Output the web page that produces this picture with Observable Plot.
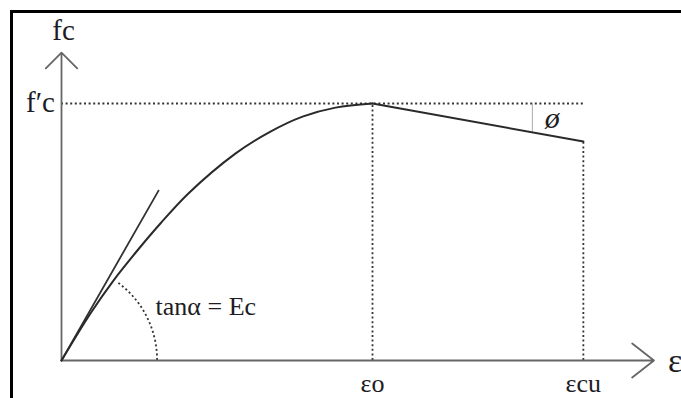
<!DOCTYPE html>
<html>
<head>
<meta charset="utf-8">
<script src="https://cdn.jsdelivr.net/npm/d3@7"></script>
<script src="https://cdn.jsdelivr.net/npm/@observablehq/plot@0.6"></script>
<style>
  html, body { margin: 0; padding: 0; background: #fff; width: 681px; height: 398px; overflow: hidden; }
  #wrap { position: relative; width: 681px; height: 398px; overflow: hidden; }
  #wrap svg { position: absolute; left: 0; top: 0; display: block; }
  .bl { position: absolute; left: 10px; top: 10px; width: 3px; height: 388px; background: #000; }
  .bt { position: absolute; left: 10px; top: 10px; width: 671px; height: 3px; background: #000; }
</style>
</head>
<body>
<div id="wrap"><div class="bl"></div><div class="bt"></div></div>
<script>
// Stress-strain curve (strain relative to εo, stress relative to f'c)
const risingStrain = [0, 0.093, 0.167, 0.244, 0.318, 0.408, 0.559, 0.666, 0.775, 0.881, 1.0];
const risingStress = [0, 0.183, 0.311, 0.428, 0.533, 0.650, 0.805, 0.887, 0.949, 0.984, 1.0];
const fallingStrain = [1.0, 1.678];
const fallingStress = [1.0, 0.852];
// Initial tangent (modulus Ec)
const tangentStrain = [0, 0.312];
const tangentStress = [0, 0.661];
// Key values
const epsO = 1.0, epsCu = 1.678, fcPeak = 1.0, fcUlt = 0.852;
const xAxisEnd = 1.905, yAxisEnd = 1.198;
const phiStrain = 1.514, phiStress = 0.888;
const alphaRadius = 0.309;
const refLineEnd = 1.685;
// Labels
const tickLabels = ["εo", "εcu"];
const tickValues = [epsO, epsCu];
const yLabel = "fc", peakLabel = "f′c", xLabel = "ε", modulusLabel = "tanα = Ec", phiLabel = "ø";

const rising = risingStrain.map((s, i) => ({s, f: risingStress[i]}));
const falling = fallingStrain.map((s, i) => ({s, f: fallingStress[i]}));
const tangent = tangentStrain.map((s, i) => ({s, f: tangentStress[i]}));

const serif = "Liberation Serif";
const ink = "#1c1c24";
const dotted = {stroke: "#333", strokeWidth: 1.8, strokeDasharray: "2,2.6"};

const alphaArc = (index, scales) => {
  const cx = scales.x(0), cy = scales.y(0);
  const r = scales.x(alphaRadius) - cx;
  const p = d3.path();
  p.moveTo(cx + r, cy);
  p.arc(cx, cy, r, 0, -54 * Math.PI / 180, true);
  const g = document.createElementNS("http://www.w3.org/2000/svg", "path");
  g.setAttribute("d", p.toString());
  g.setAttribute("fill", "none");
  g.setAttribute("stroke", "#333");
  g.setAttribute("stroke-width", "1.8");
  g.setAttribute("stroke-dasharray", "2,2.6");
  return g;
};

const chart = Plot.plot({
  width: 681,
  height: 398,
  margin: 0,
  style: {background: "transparent", fontFamily: serif},
  x: {domain: [0, 1], range: [61, 372], axis: null},
  y: {domain: [0, 1], range: [360, 103], axis: null},
  marks: [
    // dotted reference lines
    Plot.ruleY([fcPeak], {x1: 0, x2: refLineEnd, ...dotted}),
    Plot.ruleX([epsO], {y1: 0, y2: fcPeak, ...dotted}),
    Plot.ruleX([epsCu], {y1: 0, y2: fcUlt, ...dotted}),
    alphaArc,
    // phi marker
    Plot.ruleX([phiStrain], {y1: phiStress, y2: fcPeak, stroke: "#aaa", strokeWidth: 1}),
    // axes with arrowheads
    Plot.arrow([{}], {x1: 0, y1: 0, x2: xAxisEnd, y2: 0, stroke: "#666", strokeWidth: 1.8, headLength: 23, headAngle: 76}),
    Plot.arrow([{}], {x1: 0, y1: 0, x2: 0, y2: yAxisEnd, stroke: "#666", strokeWidth: 1.8, headLength: 18.5, headAngle: 90}),
    // tangent and curve
    Plot.line(tangent, {x: "s", y: "f", stroke: "#333", strokeWidth: 1.8}),
    Plot.line(rising, {x: "s", y: "f", curve: "catmull-rom", stroke: "#2a2a2a", strokeWidth: 2}),
    Plot.line(falling, {x: "s", y: "f", stroke: "#2a2a2a", strokeWidth: 2}),
    // labels
    Plot.text(tickLabels, {x: (d, i) => tickValues[i], y: 0, dy: 23, text: d => d, fill: ink, fontSize: 26, fontFamily: serif}),
    Plot.text([yLabel], {x: 0, y: yAxisEnd, dx: 2, dy: -22, text: d => d, fill: ink, fontSize: 29, fontFamily: serif}),
    Plot.text([peakLabel], {x: 0, y: fcPeak, dx: -21, dy: -1, text: d => d, fill: ink, fontSize: 29, fontFamily: serif}),
    Plot.text([xLabel], {x: xAxisEnd, y: 0, dx: 14, dy: 1, textAnchor: "start", text: d => d, fill: ink, fontSize: 34, fontFamily: serif}),
    Plot.text([modulusLabel], {x: alphaRadius, y: 0.21, dx: -2, textAnchor: "start", text: d => d, fill: ink, fontSize: 26, fontFamily: serif}),
    Plot.text([phiLabel], {x: phiStrain, y: fcPeak, dx: 20, dy: 15, text: d => d, fill: ink, fontSize: 30, fontStyle: "italic", fontFamily: serif})
  ]
});
d3.select(chart).selectAll("text, tspan").attr("font-family", serif).style("font-family", serif);
document.getElementById("wrap").prepend(chart);
</script>
</body>
</html>
